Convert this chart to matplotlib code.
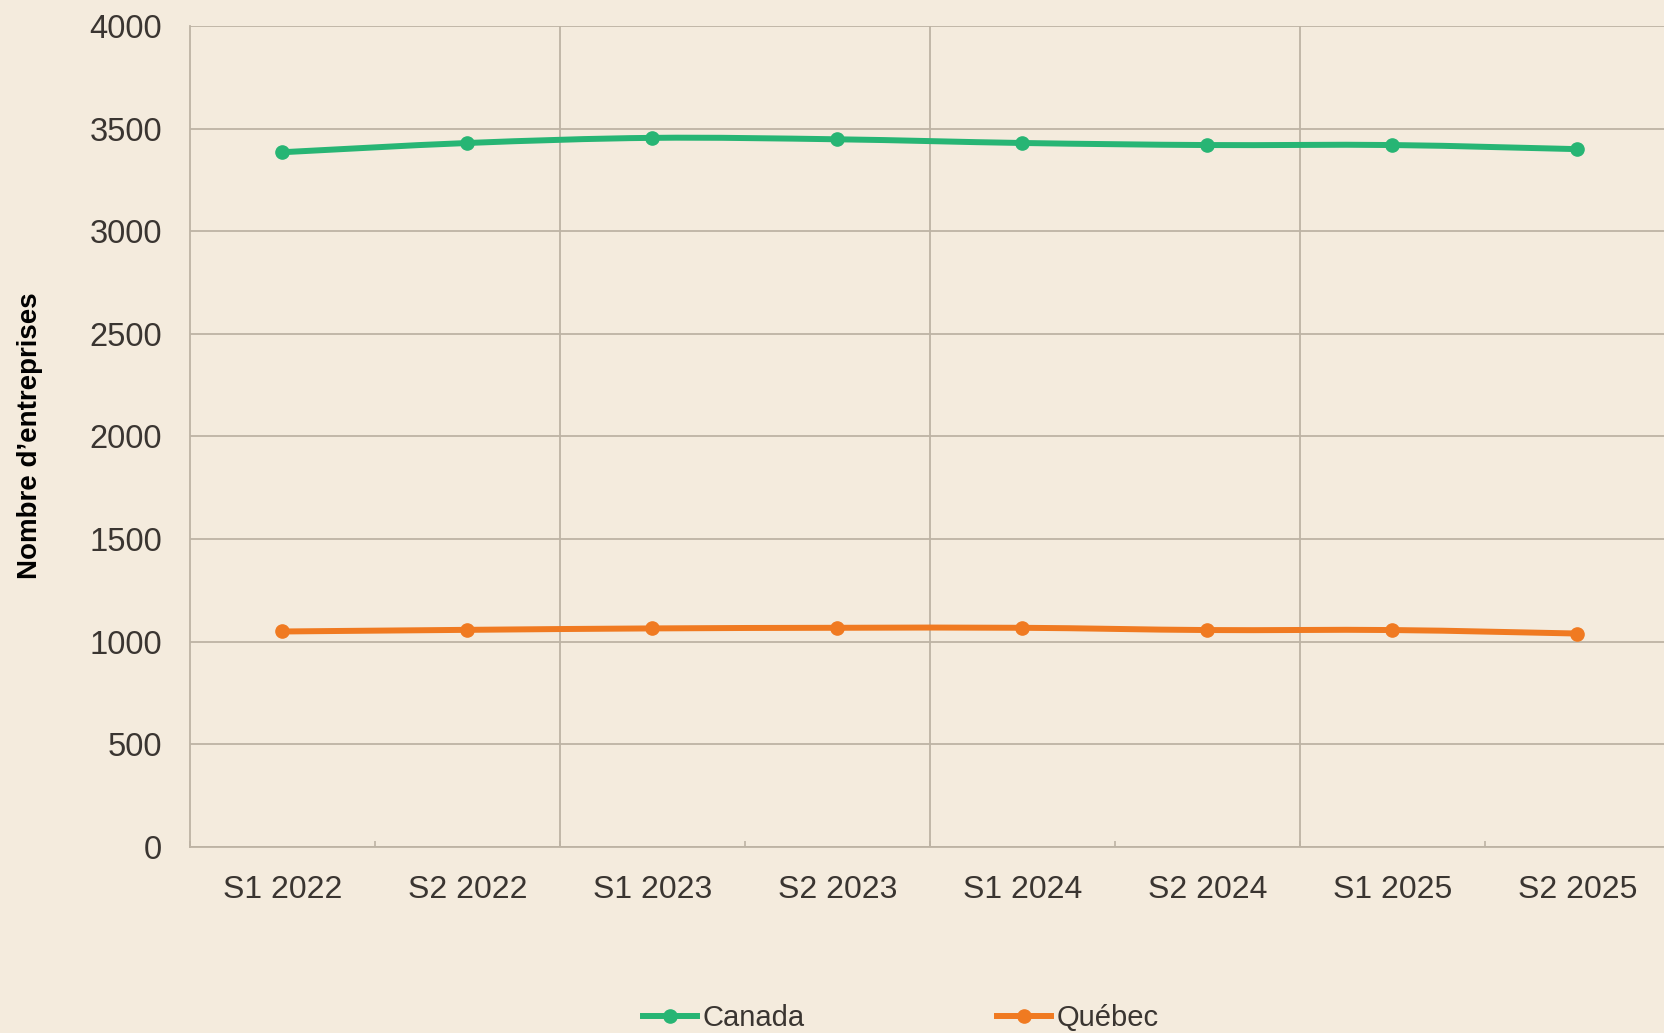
import matplotlib.pyplot as plt
import numpy as np
from matplotlib.lines import Line2D
from matplotlib.patches import PathPatch
from matplotlib.path import Path

# Données
PERIODES = ["S1 2022", "S2 2022", "S1 2023", "S2 2023",
            "S1 2024", "S2 2024", "S1 2025", "S2 2025"]
CANADA = [3385, 3430, 3455, 3448, 3430, 3420, 3420, 3400]
QUEBEC = [1050, 1058, 1065, 1068, 1068, 1057, 1057, 1040]

FOND = "#F4EBDD"
GRILLE = "#BDB3A4"
TEXTE = "#3A3531"
VERT = "#27B574"
ORANGE = "#F07A21"

plt.rcParams["font.family"] = ["Liberation Sans", "DejaVu Sans"]


def courbe_lissee(x, y):
    # courbe de Bézier type Catmull-Rom (ligne lissée façon Excel)
    pts = np.column_stack([x, y]).astype(float)
    sommets = [pts[0]]
    codes = [Path.MOVETO]
    n = len(pts)
    for i in range(n - 1):
        p0 = pts[max(i - 1, 0)]
        p1 = pts[i]
        p2 = pts[i + 1]
        p3 = pts[min(i + 2, n - 1)]
        c1 = p1 + (p2 - p0) / 6
        c2 = p2 - (p3 - p1) / 6
        sommets += [c1, c2, p2]
        codes += [Path.CURVE4] * 3
    return Path(sommets, codes)


fig = plt.figure(figsize=(16.65, 10.33), dpi=100, facecolor=FOND)
ax = fig.add_axes([190 / 1665, 186 / 1033, 1480 / 1665, 821 / 1033])
ax.set_facecolor(FOND)

x = np.arange(len(PERIODES))
for valeurs, couleur in [(CANADA, VERT), (QUEBEC, ORANGE)]:
    ax.add_patch(PathPatch(courbe_lissee(x, valeurs), facecolor="none",
                           edgecolor=couleur, linewidth=4.3,
                           capstyle="round", joinstyle="round", zorder=3))
    ax.plot(x, valeurs, linestyle="none", marker="o", markersize=9.5,
            color=couleur, zorder=4)

ax.set_xlim(-0.5, len(PERIODES) - 0.5)
ax.set_ylim(0, 4000)
ax.set_yticks(np.arange(0, 4001, 500))
ax.yaxis.grid(True, color=GRILLE, linewidth=1.3)
ax.set_axisbelow(True)

bornes = np.arange(len(PERIODES) + 1) - 0.5
for b in bornes[2:-1:2]:
    ax.axvline(b, color=GRILLE, linewidth=1.3, zorder=1)

ax.set_xticks(x)
ax.set_xticklabels(PERIODES)
ax.set_xticks(bornes, minor=True)
ax.tick_params(axis="x", which="major", length=0, pad=20,
               labelsize=23, labelcolor=TEXTE)
ax.tick_params(axis="x", which="minor", direction="in", length=4.5,
               width=1.2, color=GRILLE)
ax.tick_params(axis="y", length=0, pad=20, labelsize=23.5, labelcolor=TEXTE)

for cote in ["top", "right"]:
    ax.spines[cote].set_visible(False)
for cote in ["left", "bottom"]:
    ax.spines[cote].set_color(GRILLE)
    ax.spines[cote].set_linewidth(1.3)

fig.text(30 / 1665, 1 - 436 / 1033, "Nombre d\u2019entreprises", rotation=90,
         ha="center", va="center", fontsize=20, fontweight="bold",
         color="black")

poignees = [
    Line2D([], [], color=VERT, linewidth=4.3, marker="o", markersize=9.5),
    Line2D([], [], color=ORANGE, linewidth=4.3, marker="o", markersize=9.5),
]
leg = fig.legend(poignees, ["Canada", "Qu\u00e9bec"], loc="center",
                 bbox_to_anchor=(901 / 1665, 1 - 1018 / 1033), ncol=2,
                 frameon=False, fontsize=21, handlelength=1.85,
                 handletextpad=0.2, columnspacing=6.6, labelcolor=TEXTE,
                 borderpad=0)

fig.savefig("out.png", dpi=100, facecolor=FOND)
